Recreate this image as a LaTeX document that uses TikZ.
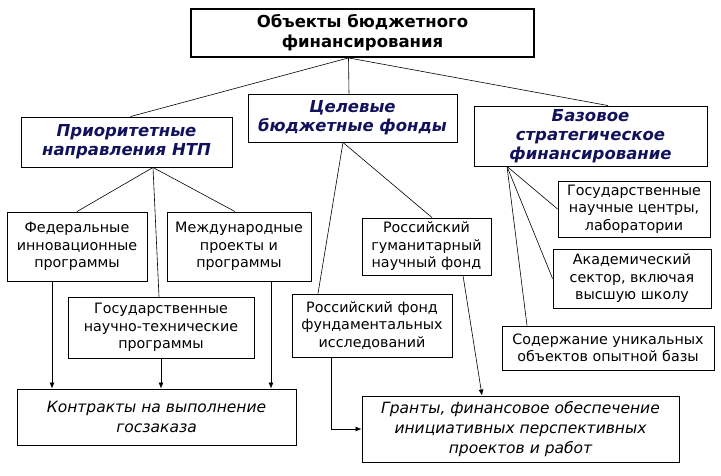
\documentclass[tikz,border=0pt]{standalone}
\usepackage{fontspec}
\setmainfont{DejaVu Sans}
\usepackage{tikz}
\usetikzlibrary{arrows.meta}
\definecolor{headblue}{RGB}{18,18,92}
\tikzstyle{box} = [draw, line width=0.9pt, align=center, inner sep=1pt, font=\fontsize{14.3}{17.5}\selectfont]
\tikzstyle{headbox} = [box, text=headblue, font=\fontsize{16.5}{19}\selectfont\bfseries\itshape]
\tikzstyle{resbox} = [box, font=\fontsize{15.5}{20}\selectfont\itshape]
\tikzstyle{arrow} = [-{Latex[length=6pt,width=5pt]}]

\begin{document}
\begin{tikzpicture}[x=1pt,y=-1pt,line width=0.6pt]
		\useasboundingbox (0,0) rectangle (721,475);
		% verhnij uroven
		\node[box, line width=1.8pt, font=\fontsize{16.5}{20}\selectfont\bfseries,
			minimum width=343, minimum height=48] (obj) at (362.5,33)
			{Объекты бюджетного\\финансирования};
		\node[headbox, minimum width=211, minimum height=50] (prio) at (126.5,142)
			{Приоритетные\\направления НТП};
		\node[headbox, minimum width=209, minimum height=48] (cel) at (352.5,118)
			{Целевые\\бюджетные фонды};
		\node[headbox, minimum width=233, minimum height=60] (baz) at (590.5,136)
			{Базовое\\стратегическое\\финансирование};
		% vtoroj uroven
		\node[box, minimum width=140, minimum height=69] (fed) at (77,246.5)
			{Федеральные\\инновационные\\программы};
		\node[box, minimum width=144, minimum height=69] (mezh) at (239,246.5)
			{Международные\\проекты и\\программы};
		\node[box, minimum width=186, minimum height=61] (gosnt) at (161,327.5)
			{Государственные\\научно-технические\\программы};
		\node[box, minimum width=160, minimum height=63] (rffi) at (372,325.5)
			{Российский фонд\\фундаментальных\\исследований};
		\node[box, minimum width=129, minimum height=57] (rgnf) at (426.5,246.5)
			{Российский\\гуманитарный\\научный фонд};
		\node[box, minimum width=152, minimum height=56] (gnc) at (634,209)
			{Государственные\\научные центры,\\лаборатории};
		\node[box, minimum width=158, minimum height=59] (akad) at (632,278.5)
			{Академический\\сектор, включая\\высшую школу};
		\node[box, minimum width=212, minimum height=44] (sod) at (608,348)
			{Содержание уникальных\\объектов опытной базы};
		% rezultaty
		\node[resbox, minimum width=279, minimum height=56] (kontr) at (156.5,417)
			{Контракты на выполнение\\госзаказа};
		\node[resbox, minimum width=317, minimum height=66] (grant) at (520.5,429)
			{Гранты, финансовое обеспечение\\инициативных перспективных\\проектов и работ};
		% svyazi
		\draw ([xshift=-14pt]obj.south) -- ([xshift=4pt]prio.north);
		\draw ([xshift=-14pt]obj.south) -- ([xshift=-3.5pt]cel.north);
		\draw ([xshift=-14pt]obj.south) -- ([xshift=17.5pt]baz.north);
		\draw ([xshift=26.5pt]prio.south) -- (fed.north);
		\draw ([xshift=26.5pt]prio.south) -- ([xshift=-2pt]gosnt.north);
		\draw ([xshift=26.5pt]prio.south) -- ([xshift=-4pt]mezh.north);
		\draw ([xshift=-9.5pt]cel.south) -- ([xshift=-54pt]rffi.north);
		\draw ([xshift=-9.5pt]cel.south) -- ([xshift=5.5pt]rgnf.north);
		\foreach \Kuda in {gnc,akad}
		{
			\draw ([xshift=-83.5pt]baz.south) -- (\Kuda.west);
		}
		\draw ([xshift=-83.5pt]baz.south) -- ([xshift=-81pt]sod.north);
		% strelki
		\draw[arrow] ([xshift=-25pt]fed.south) coordinate (f) -- (f |- kontr.north);
		\draw[arrow] (gosnt.south) -- (gosnt.south |- kontr.north);
		\draw[arrow] ([xshift=32pt]mezh.south) coordinate (m) -- (m |- kontr.north);
		\draw[arrow] ([xshift=36.5pt]rgnf.south) -- ([xshift=-38.5pt]grant.north);
		\draw[arrow] ([xshift=-41pt]rffi.south) |- (grant.west);
\end{tikzpicture}
\end{document}
